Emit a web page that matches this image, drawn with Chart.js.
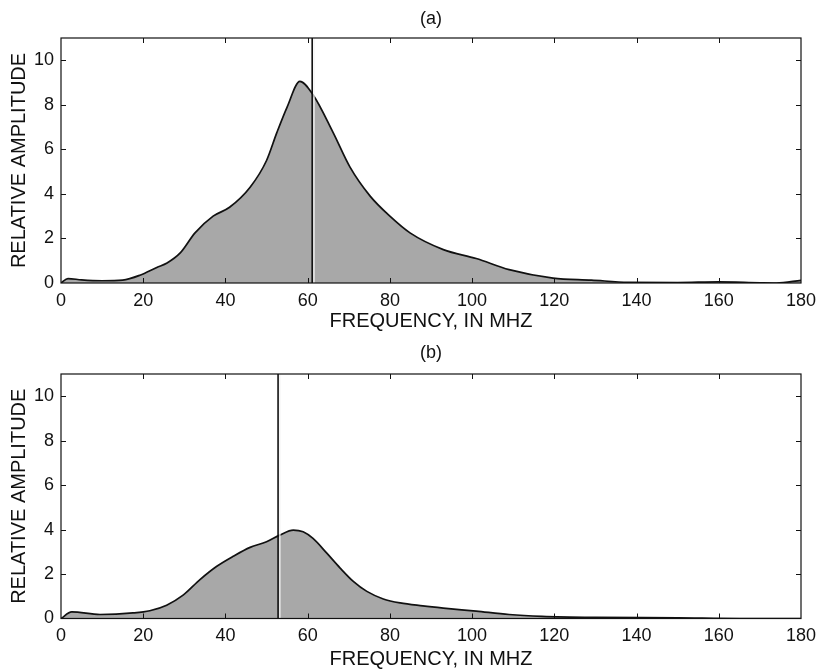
<!DOCTYPE html>
<html>
<head>
<meta charset="utf-8">
<script src="https://cdn.jsdelivr.net/npm/chart.js@4.4.1/dist/chart.umd.min.js"></script>
<style>
  html, body { margin: 0; padding: 0; background: #ffffff; }
  #wrap { position: relative; width: 820px; height: 669px; }
  #c1 { position: absolute; left: 0; top: 0; }
  #c2 { position: absolute; left: 0; top: 331px; }
</style>
</head>
<body>
<div id="wrap">
  <canvas id="c1" width="820" height="331"></canvas>
  <canvas id="c2" width="820" height="338"></canvas>
</div>
<script>
// ---- Data ----
const freqA = [0, 1.7, 5, 10, 15, 19.2, 23.3, 25.8, 29, 32.6, 37, 41, 46, 50, 52.5, 55, 58.1, 61.3, 66.2, 70.3, 75.2, 80, 84.9, 93, 101, 109, 119.7, 129, 138, 150, 160, 170, 174, 180];
const ampA  = [0, 0.2, 0.14, 0.1, 0.13, 0.35, 0.7, 0.9, 1.35, 2.25, 3.0, 3.4, 4.3, 5.5, 6.75, 7.9, 9.05, 8.45, 6.75, 5.2, 3.9, 3.0, 2.25, 1.5, 1.1, 0.6, 0.22, 0.13, 0.03, 0.02, 0.05, 0.01, 0.0, 0.12];
const markerA = 61.1;

const freqB = [0, 2.6, 9.5, 17.5, 21.6, 25.7, 29.7, 33.8, 37.9, 41.9, 46, 50, 53.2, 56.5, 58.9, 61.3, 64.6, 67.9, 71.1, 74.4, 78.4, 82.5, 88, 93, 101, 109, 117, 130, 150, 165, 180];
const ampB  = [0, 0.3, 0.18, 0.25, 0.35, 0.6, 1.05, 1.75, 2.35, 2.8, 3.2, 3.45, 3.75, 3.98, 3.9, 3.6, 2.95, 2.27, 1.67, 1.22, 0.88, 0.7, 0.57, 0.47, 0.33, 0.18, 0.1, 0.05, 0.03, 0.0, 0.0];
const markerB = 52.8;

const xTicks = [0, 20, 40, 60, 80, 100, 120, 140, 160, 180];
const yTicks = [0, 2, 4, 6, 8, 10];
const panelTitles = ['(a)', '(b)'];
const xTitle = 'FREQUENCY, IN MHZ';
const yTitle = 'RELATIVE AMPLITUDE';

const FONT = '"Liberation Sans", Arial, Helvetica, sans-serif';

// Frame, inward ticks on all four sides, and the thin white gap beside the marker line
const framePlugin = {
  id: 'frame',
  afterDatasetDraw(chart, args) {
    if (args.index !== 1) return;
    const { ctx, chartArea: a, scales: { x } } = chart;
    const m = chart.data.datasets[0].data[0].x;
    const px = x.getPixelForValue(m) + 1.8;
    ctx.save();
    ctx.strokeStyle = '#f4f4f4';
    ctx.lineWidth = 1.3;
    ctx.beginPath();
    ctx.moveTo(px, a.top); ctx.lineTo(px, a.bottom);
    ctx.stroke();
    ctx.restore();
  },
  afterDatasetsDraw(chart) {
    const { ctx, chartArea: a, scales: { x, y } } = chart;
    ctx.save();
    ctx.strokeStyle = '#111';
    ctx.lineWidth = 1.2;
    ctx.strokeRect(a.left, a.top, a.right - a.left, a.bottom - a.top);
    ctx.lineWidth = 1;
    const L = 5;
    ctx.beginPath();
    xTicks.forEach(v => {
      const px = Math.round(x.getPixelForValue(v)) + 0.5;
      if (v > 0 && v < 180) {
        ctx.moveTo(px, a.top); ctx.lineTo(px, a.top + L);
        ctx.moveTo(px, a.bottom); ctx.lineTo(px, a.bottom - L);
      }
    });
    yTicks.forEach(v => {
      const py = Math.round(y.getPixelForValue(v)) + 0.5;
      if (v > 0) {
        ctx.moveTo(a.left, py); ctx.lineTo(a.left + L, py);
        ctx.moveTo(a.right, py); ctx.lineTo(a.right - L, py);
      }
    });
    ctx.stroke();
    ctx.restore();
  }
};

function makeChart(id, freq, amp, marker, title, cfg) {
  const pts = freq.map((f, i) => ({ x: f, y: amp[i] }));
  return new Chart(document.getElementById(id), {
    type: 'line',
    data: {
      datasets: [
        {
          data: [{ x: marker, y: 0 }, { x: marker, y: 11 }],
          borderColor: '#111', borderWidth: 1.6, pointRadius: 0, fill: false, tension: 0, order: 0
        },
        {
          data: pts,
          borderColor: '#111', borderWidth: 1.7,
          backgroundColor: '#a8a8a8',
          fill: 'origin', pointRadius: 0, tension: 0.4, cubicInterpolationMode: 'monotone', order: 1
        }
      ]
    },
    options: {
      responsive: false,
      animation: false,
      layout: { padding: { left: 0, right: 19, top: 0, bottom: 0 } },
      plugins: {
        legend: { display: false },
        tooltip: { enabled: false },
        title: {
          display: true, text: title, fullSize: false,
          color: '#111', font: { family: FONT, size: 18, weight: 'normal', lineHeight: 1.2 },
          padding: { top: cfg.titleTop, bottom: cfg.titleBottom }
        }
      },
      scales: {
        x: {
          type: 'linear', min: 0, max: 180,
          afterBuildTicks: s => { s.ticks = xTicks.map(v => ({ value: v })); },
          afterFit: s => { s.height = cfg.xHeight; s.paddingLeft = 0; s.paddingRight = 0; },
          grid: { display: false, drawTicks: false },
          border: { display: false },
          ticks: { color: '#111', font: { family: FONT, size: 18, lineHeight: 1.2 }, padding: 7, maxRotation: 0, autoSkip: false },
          title: { display: true, text: xTitle, color: '#111', font: { family: FONT, size: 20, lineHeight: 1 }, padding: { top: 0, bottom: 0 } }
        },
        y: {
          type: 'linear', min: 0, max: 11,
          afterBuildTicks: s => { s.ticks = yTicks.map(v => ({ value: v })); },
          afterFit: s => { s.width = 61; s.paddingTop = 0; s.paddingBottom = 0; },
          grid: { display: false, drawTicks: false },
          border: { display: false },
          ticks: { color: '#111', font: { family: FONT, size: 18 }, padding: 7 },
          title: { display: true, text: yTitle, color: '#111', font: { family: FONT, size: 20, lineHeight: 1 }, padding: { top: 9, bottom: 0 } }
        }
      }
    },
    plugins: [framePlugin]
  });
}

makeChart('c1', freqA, ampA, markerA, panelTitles[0], { titleTop: 8.2, titleBottom: 8.2, xHeight: 48 });
makeChart('c2', freqB, ampB, markerB, panelTitles[1], { titleTop: 11.2, titleBottom: 10.2, xHeight: 50.5 });
</script>
</body>
</html>
